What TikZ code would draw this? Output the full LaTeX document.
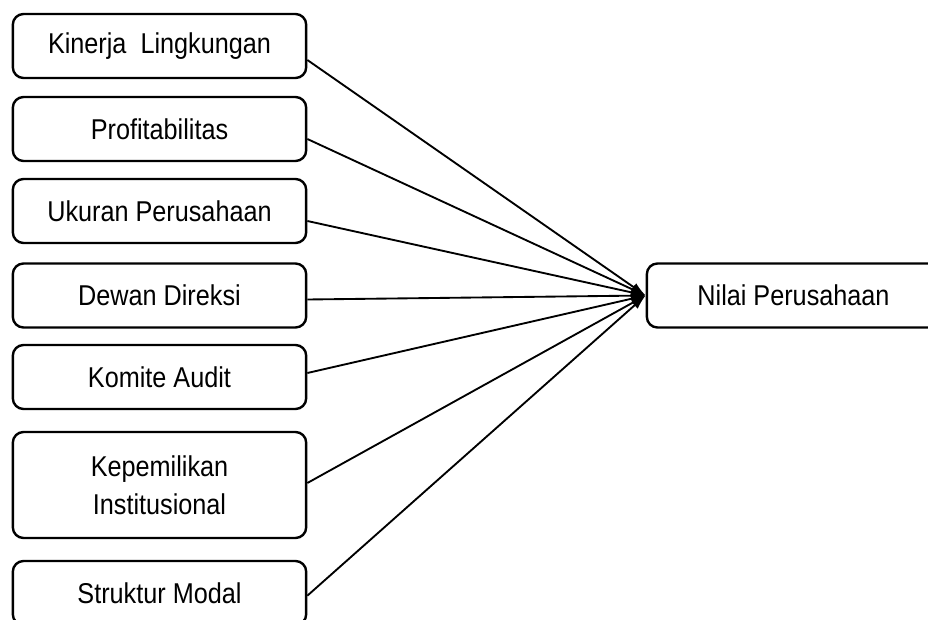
\documentclass[tikz,border=0pt]{standalone}
\usepackage{fontspec}
\setmainfont[FakeStretch=0.88]{Liberation Sans}
\usetikzlibrary{arrows.meta}

\tikzset{
    varbox/.style={rectangle, draw, line width=1.8pt, rounded corners=8pt, minimum width=220pt, minimum height=48pt, align=center, font=\fontsize{21.5}{28.5}\selectfont},
    link/.style={line width=1.4pt, -{Latex[length=11pt, width=7pt]}}
}

\begin{document}
\begin{tikzpicture}[x=0.75pt, y=-0.75pt]
            \clip (0,0) rectangle (928,620); % page frame
            \pgfmathsetmacro{\xl}{159.5}
            \path (0,0) node[varbox] (kl) at (\xl, 46) {Kinerja~ Lingkungan}; % first input box
            \path (0,0) node[varbox] (pr) at (\xl, 129) {Profitabilitas};
            \path (0,0) node[varbox] (up) at (\xl, 211) {Ukuran Perusahaan};
            \path (0,0) node[varbox] (dd) at (\xl, 295.5) {Dewan Direksi};
            \path (0,0) node[varbox] (ka) at (\xl, 377) {Komite Audit};
            \path (0,0) node[varbox, minimum height=79.5pt] (ki) at (\xl, 485) {Kepemilikan\\Institusional}; % two-line box
            \path (0,0) node[varbox] (sm) at (\xl, 593) {Struktur Modal}; % cut by the frame

            \path (0,0) node[varbox] (np) at (793.5, 295.5) {Nilai Perusahaan}; % output box

            % arrows
            \foreach \v/\s in {kl/-10.5, pr/-7.5, up/-7.5, dd/-3, ka/3, ki/1.5, sm/-2}
                \draw[link] ([yshift=\s pt]\v.east) -- (np.west);
        \end{tikzpicture}
\end{document}
